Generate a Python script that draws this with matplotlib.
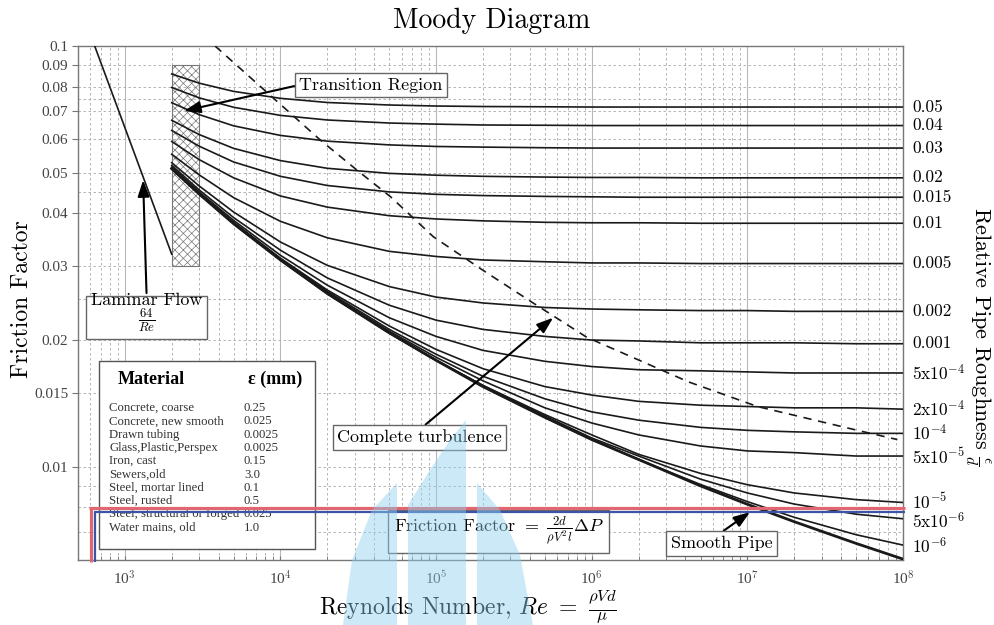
import matplotlib
matplotlib.use("Agg")
import matplotlib.pyplot as plt
from matplotlib.patches import Rectangle, Polygon
from matplotlib.lines import Line2D
from matplotlib.ticker import NullFormatter
from matplotlib.transforms import blended_transform_factory

plt.rcParams["font.family"] = "cmr10"
plt.rcParams["mathtext.fontset"] = "cm"
plt.rcParams["axes.formatter.use_mathtext"] = True
plt.rcParams["hatch.linewidth"] = 0.5
plt.rcParams["hatch.color"] = "#888888"

re_pts = [2e3, 3e3, 5e3, 1e4, 2e4, 5e4, 1e5, 2e5, 5e5, 1e6, 2e6, 5e6, 1e7, 2e7, 5e7, 1e8]

f_0p05 = [0.0858, 0.0816, 0.0780, 0.0751, 0.0734, 0.0724, 0.0720, 0.0718, 0.0717, 0.0716, 0.0716, 0.0716, 0.0716, 0.0716, 0.0716, 0.0716]
f_0p04 = [0.0797, 0.0753, 0.0715, 0.0684, 0.0667, 0.0656, 0.0652, 0.0649, 0.0648, 0.0647, 0.0647, 0.0647, 0.0647, 0.0647, 0.0647, 0.0647]
f_0p03 = [0.0733, 0.0687, 0.0646, 0.0613, 0.0594, 0.0582, 0.0577, 0.0575, 0.0573, 0.0572, 0.0572, 0.0572, 0.0572, 0.0572, 0.0572, 0.0572]
f_0p02 = [0.0666, 0.0616, 0.0571, 0.0534, 0.0512, 0.0498, 0.0493, 0.0490, 0.0488, 0.0487, 0.0487, 0.0486, 0.0486, 0.0486, 0.0486, 0.0486]
f_0p015 = [0.0630, 0.0578, 0.0530, 0.0490, 0.0466, 0.0450, 0.0444, 0.0441, 0.0439, 0.0438, 0.0437, 0.0437, 0.0437, 0.0437, 0.0437, 0.0437]
f_0p01 = [0.0593, 0.0537, 0.0486, 0.0440, 0.0414, 0.0395, 0.0388, 0.0384, 0.0381, 0.0380, 0.0380, 0.0379, 0.0379, 0.0379, 0.0379, 0.0379]
f_0p005 = [0.0553, 0.0494, 0.0436, 0.0383, 0.0350, 0.0325, 0.0316, 0.0310, 0.0307, 0.0305, 0.0305, 0.0304, 0.0304, 0.0304, 0.0304, 0.0304]
f_0p002 = [0.0528, 0.0465, 0.0403, 0.0342, 0.0301, 0.0268, 0.0253, 0.0245, 0.0239, 0.0237, 0.0236, 0.0235, 0.0235, 0.0234, 0.0234, 0.0234]
f_0p001 = [0.0520, 0.0455, 0.0391, 0.0327, 0.0281, 0.0242, 0.0223, 0.0212, 0.0204, 0.0200, 0.0199, 0.0197, 0.0197, 0.0197, 0.0196, 0.0196]
f_5em4 = [0.0515, 0.0450, 0.0385, 0.0318, 0.0270, 0.0226, 0.0204, 0.0189, 0.0178, 0.0173, 0.0170, 0.0169, 0.0168, 0.0167, 0.0167, 0.0167]
f_2em4 = [0.0513, 0.0447, 0.0381, 0.0313, 0.0263, 0.0216, 0.0190, 0.0171, 0.0155, 0.0148, 0.0143, 0.0140, 0.0139, 0.0138, 0.0138, 0.0137]
f_1em4 = [0.0512, 0.0446, 0.0380, 0.0312, 0.0261, 0.0212, 0.0185, 0.0164, 0.0145, 0.0135, 0.0129, 0.0124, 0.0122, 0.0121, 0.0120, 0.0120]
f_5em5 = [0.0511, 0.0445, 0.0379, 0.0311, 0.0259, 0.0210, 0.0182, 0.0160, 0.0138, 0.0127, 0.0119, 0.0112, 0.0109, 0.0108, 0.0106, 0.0106]
f_1em5 = [0.0511, 0.0445, 0.0379, 0.0310, 0.0258, 0.0208, 0.0179, 0.0156, 0.0133, 0.0119, 0.0107, 0.00964, 0.00906, 0.00866, 0.00835, 0.00822]
f_5em6 = [0.0511, 0.0445, 0.0379, 0.0310, 0.0258, 0.0208, 0.0179, 0.0156, 0.0132, 0.0117, 0.0106, 0.00934, 0.00866, 0.00815, 0.00771, 0.00752]
f_1em6 = [0.0511, 0.0445, 0.0378, 0.0310, 0.0258, 0.0208, 0.0179, 0.0155, 0.0131, 0.0116, 0.0104, 0.00907, 0.00826, 0.00758, 0.00689, 0.00651]
f_smooth = [0.0511, 0.0445, 0.0378, 0.0310, 0.0258, 0.0208, 0.0179, 0.0155, 0.0131, 0.0116, 0.0104, 0.00900, 0.00814, 0.00740, 0.00657, 0.00603]

rough_curves = [f_0p05, f_0p04, f_0p03, f_0p02, f_0p015, f_0p01, f_0p005, f_0p002, f_0p001,
                f_5em4, f_2em4, f_1em4, f_5em5, f_1em5, f_5em6, f_1em6]
rough_labels = ["0.05", "0.04", "0.03", "0.02", "0.015", "0.01", "0.005", "0.002", "0.001",
                r"5x10$^{-4}$", r"2x10$^{-4}$", r"10$^{-4}$", r"5x10$^{-5}$",
                r"10$^{-5}$", r"5x10$^{-6}$", r"10$^{-6}$"]
# where the right hand labels sit (friction factor)
rough_label_f = [0.0716, 0.0647, 0.0572, 0.0486, 0.0437, 0.0379, 0.0304, 0.0234, 0.0196,
                 0.0167, 0.0137, 0.0120, 0.0106, 0.00826, 0.00742, 0.00648]

# laminar line 64/Re
lam_re = [640, 2000]
lam_f = [0.1, 0.032]

# dashed boundary of complete turbulence
turb_re = [3.8e3, 1.8e4, 3.1e4, 5.1e4, 9.6e4, 2.0e5, 4.2e5, 9.3e5, 4.2e6, 1.16e7, 5.1e7, 9.2e7]
turb_f = [0.1, 0.0598, 0.0507, 0.0438, 0.0352, 0.0293, 0.0245, 0.0203, 0.0159, 0.0139, 0.0122, 0.0116]

y_ticks = [0.01, 0.015, 0.02, 0.03, 0.04, 0.05, 0.06, 0.07, 0.08, 0.09, 0.1]
y_ticklabels = ["0.01", "0.015", "0.02", "0.03", "0.04", "0.05", "0.06", "0.07", "0.08", "0.09", "0.1"]
y_minor = [0.006, 0.007, 0.008, 0.009, 0.025, 0.045, 0.075]
x_ticks = [1e3, 1e4, 1e5, 1e6, 1e7, 1e8]
x_ticklabels = [r"10$^{3}$", r"10$^{4}$", r"10$^{5}$", r"10$^{6}$", r"10$^{7}$", r"10$^{8}$"]

materials = ["Concrete, coarse", "Concrete, new smooth", "Drawn tubing", "Glass,Plastic,Perspex",
             "Iron, cast", "Sewers,old", "Steel, mortar lined", "Steel, rusted",
             "Steel, structural or forged", "Water mains, old"]
eps_mm = ["0.25", "0.025", "0.0025", "0.0025", "0.15", "3.0", "0.1", "0.5", "0.025", "1.0"]

W, H = 994, 625


def px(x, y):
    return x / W, 1 - y / H


fig = plt.figure(figsize=(W / 100, H / 100), dpi=100)
ax = fig.add_axes([78 / W, 1 - 560 / H, 825 / W, 514 / H])
ax.set_xscale("log")
ax.set_yscale("log")
ax.set_xlim(500, 1e8)
ax.set_ylim(0.006, 0.1)

# grid
dash = (0, (3, 3))
ax.set_yticks(y_ticks)
ax.set_yticklabels(y_ticklabels, fontfamily="Liberation Serif", fontsize=11, color="#444444")
ax.set_yticks(y_minor, minor=True)
ax.yaxis.set_minor_formatter(NullFormatter())
ax.set_xticks(x_ticks)
ax.set_xticklabels(x_ticklabels, fontfamily="Liberation Serif", fontsize=11, color="#444444")
ax.xaxis.set_minor_formatter(NullFormatter())
ax.grid(which="major", axis="x", color="#b8b8b8", lw=0.8, ls="-")
ax.grid(which="minor", axis="x", color="#a8a8a8", lw=0.6, ls=dash)
ax.grid(which="both", axis="y", color="#a8a8a8", lw=0.6, ls=dash)
ax.set_axisbelow(True)
ax.tick_params(axis="y", which="major", direction="out", length=4, color="#777777", pad=3)
ax.tick_params(axis="y", which="minor", length=0)
ax.tick_params(axis="x", which="both", direction="in", length=3, color="#777777", pad=7)
for s in ax.spines.values():
    s.set_color("#777777")
    s.set_linewidth(1.0)

# transition region box
ax.add_patch(Rectangle((2000, 0.03), 1000, 0.06, fc="none", ec="#777777", lw=0.8,
                       hatch="xxxx", zorder=1))

# curves
for fv in rough_curves:
    ax.plot(re_pts, fv, color="#1a1a1a", lw=1.2, zorder=3)
ax.plot(re_pts, f_smooth, color="#1a1a1a", lw=2.0, zorder=3)
ax.plot(lam_re, lam_f, color="#1a1a1a", lw=1.2, zorder=3)
ax.plot(turb_re, turb_f, color="#1a1a1a", lw=1.2, ls=(0, (5, 4)), zorder=3)

# right hand roughness labels
trans = blended_transform_factory(ax.transAxes, ax.transData)
for lab, fy in zip(rough_labels, rough_label_f):
    ax.text(1.011, fy, lab, transform=trans, fontsize=12.5, va="center", ha="left",
            clip_on=False)

# annotations
box = dict(boxstyle="square,pad=0.25", fc="white", ec="#666666", lw=1.0)


def arrow(rel):
    return dict(arrowstyle="-|>,head_length=0.7,head_width=0.25", color="black", lw=1.5,
                mutation_scale=14, relpos=rel, shrinkA=0, shrinkB=0)


ax.annotate("Transition Region", xy=(2400, 0.0701), xytext=(3.82e4, 0.0808), fontsize=13,
            ha="center", va="center", bbox=box, arrowprops=arrow((0, 0.5)), zorder=5)
ax.annotate("Laminar Flow\n" + r"$\frac{64}{Re}$", xy=(1310, 0.048), xytext=(1378, 0.0231),
            fontsize=13, ha="center", va="center", multialignment="center", linespacing=0.9,
            bbox=box, arrowprops=arrow((0.5, 1)), zorder=5)
ax.annotate("Complete turbulence", xy=(5.65e5, 0.0226), xytext=(7.83e4, 0.01173), fontsize=13,
            ha="center", va="center", bbox=box, arrowprops=arrow((0.5, 1)), zorder=5)
ax.annotate("Smooth Pipe", xy=(1.04e7, 0.0078), xytext=(6.84e6, 0.00657), fontsize=13,
            ha="center", va="center", bbox=box, arrowprops=arrow((0.45, 1)), zorder=5)
ax.text(2.52e5, 0.00702, r"Friction Factor $=\ \frac{2d}{\rho V^2 l}\Delta P$", fontsize=13,
        ha="center", va="center", bbox=dict(boxstyle="square,pad=0.3", fc="white",
                                              ec="#666666", lw=1.0), zorder=5)

# material table
x0, y0 = px(99, 549)
x1, y1 = px(315, 361)
fig.add_artist(Rectangle((x0, y0), x1 - x0, y1 - y0, transform=fig.transFigure,
                         fc="white", ec="#555555", lw=1.0, zorder=6))
fig.text(*px(118, 379), "Material", fontfamily="Liberation Serif", fontweight="bold",
         fontsize=13, va="center", zorder=7)
fig.text(*px(248, 379), "ε (mm)", fontfamily="Liberation Serif", fontweight="bold",
         fontsize=13, va="center", zorder=7)
for i, (m, e) in enumerate(zip(materials, eps_mm)):
    yy = 408 + i * 13.3
    fig.text(*px(109, yy), m, fontfamily="Liberation Serif", fontsize=9.2, va="center",
             color="#333333", zorder=7)
    fig.text(*px(244, yy), e, fontfamily="Liberation Serif", fontsize=9.2, va="center",
             color="#333333", zorder=7)

# titles and axis labels
fig.text(*px(492, 21), "Moody Diagram", fontsize=20, ha="center", va="center")
fig.text(*px(22, 299), "Friction Factor", fontsize=17, ha="center", va="center", rotation=90)
fig.text(*px(978, 336), r"Relative Pipe Roughness $\frac{\epsilon}{d}$", fontsize=16,
         ha="center", va="center", rotation=270)
fig.text(*px(468, 607), r"Reynolds Number, $Re\ =\ \frac{\rho V d}{\mu}$", fontsize=17,
         ha="center", va="center")

# red / blue highlight overlay
for (xa, ya, xb, yb), c, w in [((89, 508, 905, 508), "#e06670", 2.3),
                               ((91, 508, 91, 562), "#e06670", 2.3),
                               ((94, 512, 905, 512), "#3a55a8", 1.6),
                               ((95, 512, 95, 562), "#3a55a8", 1.6)]:
    pa, pb = px(xa, ya), px(xb, yb)
    fig.add_artist(Line2D([pa[0], pb[0]], [pa[1], pb[1]], transform=fig.transFigure,
                          color=c, lw=w, zorder=9, solid_capstyle="butt"))

# light blue watermark
shapes = [
    [(343, 625), (352, 560), (372, 510), (397, 483), (397, 625)],
    [(408, 625), (408, 505), (430, 470), (450, 440), (466, 420), (466, 625)],
    [(477, 625), (477, 483), (500, 510), (520, 555), (533, 625)],
]
for pts in shapes:
    fig.add_artist(Polygon([px(x, y) for x, y in pts], closed=True, transform=fig.transFigure,
                           fc="#8fd0ef", ec="none", alpha=0.45, zorder=10))

fig.savefig("out.png", dpi=100, facecolor="white")
